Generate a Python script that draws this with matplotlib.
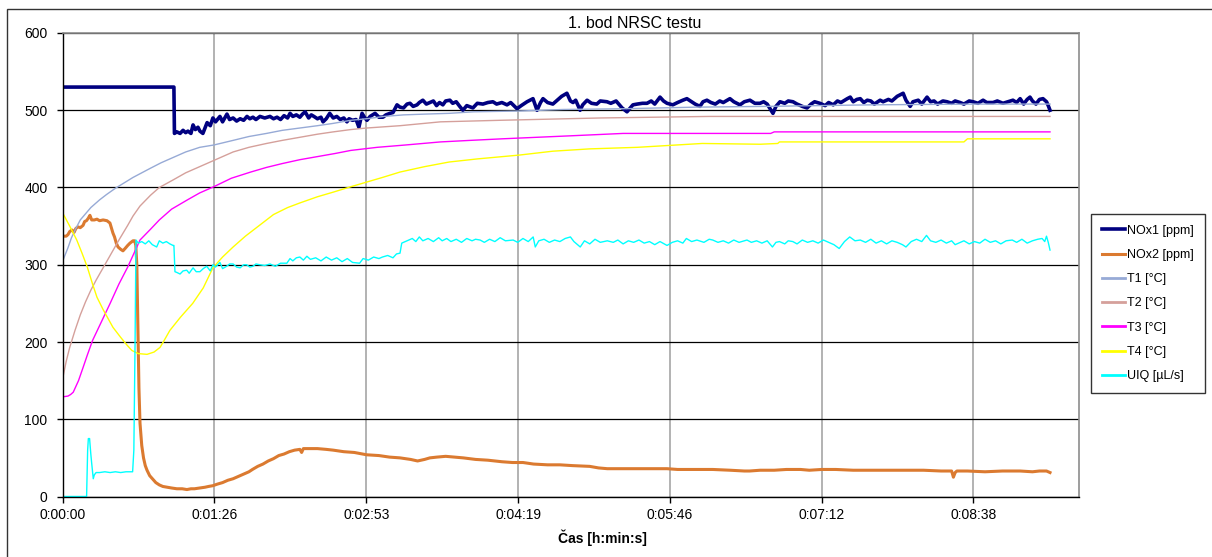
import numpy as np
import matplotlib
matplotlib.use("Agg")
import matplotlib.pyplot as plt
from matplotlib.ticker import FuncFormatter, MultipleLocator
from matplotlib.patches import Rectangle

plt.rcParams["font.family"] = ["Liberation Sans", "DejaVu Sans"]

# (time [s], value) pairs for each logged channel
nox1 = [
    (0, 530), (63.3, 530), (63.6, 470), (65, 472), (66.8, 470), (68.5, 474), (70, 471), (71.3, 473),
    (73, 470), (74.2, 481), (75.5, 475), (77, 478), (78.1, 473), (79.8, 470), (82.2, 484), (84, 480),
    (85.5, 490), (87, 485), (89.5, 492), (91, 485), (93.5, 495), (95, 488), (97, 490), (99, 486),
    (101, 489), (103, 487), (104.9, 492), (106.5, 489), (108.3, 491), (110, 488), (112.3, 492),
    (115, 490), (118, 492), (120, 489), (122, 491), (124, 488), (126, 493), (128, 490), (129.4, 496),
    (131, 492), (133, 494), (135, 491), (136.5, 495), (138, 498), (140, 490), (141.5, 494), (143, 492),
    (145, 489), (147, 491), (148.2, 485), (150, 489), (152, 496), (154, 490), (156, 492), (158, 488),
    (160, 490), (161.8, 485), (163, 489), (165, 487), (167, 488), (168.6, 478), (170.4, 496),
    (172, 490), (173.2, 487), (175, 492), (177.8, 496), (180, 491), (182.3, 491), (184, 494),
    (186.3, 496), (188, 497), (190.3, 507), (192, 504), (194, 503), (196, 508), (197.7, 509),
    (199.5, 505), (201.7, 507), (203, 510), (205, 513), (207, 508), (209, 510), (211, 512),
    (212.8, 506), (214.5, 510), (216.4, 507), (218, 512), (220.4, 513), (222, 509), (224, 511),
    (226, 505), (227.8, 500), (230, 506), (233.5, 503), (236, 509), (239.2, 508), (242, 510),
    (244.9, 511), (247, 508), (250, 510), (252.9, 507), (255, 510), (258.6, 502), (261, 506),
    (264.3, 511), (267.7, 515), (270, 500), (272, 510), (273.4, 515), (276, 510), (279, 508),
    (281, 512), (284, 518), (287, 522), (289, 512), (290.5, 510), (292, 513), (294.5, 500),
    (296, 507), (298.5, 513), (301, 509), (304, 508), (306, 512), (309.8, 511), (312, 509),
    (315, 512), (318.4, 503), (321.2, 498), (324.6, 507), (327, 508), (330, 509), (332.6, 509),
    (335, 512), (337, 508), (340, 517), (342, 512), (344, 509), (347.3, 507), (350, 510), (353, 513),
    (355.3, 515), (358, 511), (360, 508), (362.7, 505), (364.5, 511), (366.7, 513), (369, 510),
    (371.5, 508), (374, 512), (376, 510), (379.8, 515), (382, 511), (385.5, 507), (388, 511),
    (391.2, 513), (394, 509), (396.9, 509), (399, 511), (401, 508), (404.3, 496), (406, 505),
    (408.3, 511), (411, 509), (413, 512), (415.7, 511), (418, 508), (421, 505), (423.7, 503),
    (426, 508), (428, 511), (431, 509), (434, 506), (436, 510), (438.6, 507), (441, 512), (443, 510),
    (446.6, 515), (448.3, 517), (450, 511), (452, 514), (454, 515), (456, 510), (458, 513), (460, 512),
    (462, 508), (465.3, 513), (467, 511), (470, 514), (472, 512), (475, 518), (478.4, 522), (480, 513),
    (482.4, 505), (484, 511), (487, 513), (489, 508), (492, 517), (494, 511), (496, 512), (498, 508),
    (501, 512), (503.4, 511), (506, 509), (508, 512), (510.8, 510), (513, 508), (516, 512),
    (518.2, 511), (521, 509), (523.9, 513), (526, 510), (529.6, 510), (532, 512), (535.2, 509),
    (538, 511), (540.9, 513), (543, 510), (545, 515), (547, 508), (549, 514), (550.6, 517), (552, 512),
    (554, 508), (556, 514), (558, 515), (560, 511), (561, 506), (562, 500),
]

nox2 = [
    (0, 337), (2, 337), (3, 339), (4, 343), (5.3, 345), (6.5, 342), (7.5, 347), (8.7, 349), (10, 348),
    (11.6, 351), (12.5, 356), (13.5, 357), (14.5, 360), (15.5, 364), (16.5, 358), (18, 358),
    (19.5, 359), (21, 357), (23, 358), (25.2, 357), (26.9, 354), (27.8, 347), (28.6, 341),
    (29.5, 336), (30.5, 328), (31.5, 323), (33, 320), (34.3, 318), (35.5, 321), (37, 325),
    (38.3, 328), (40, 331), (41, 331), (41.6, 325), (42.2, 300), (42.8, 220), (43.4, 140), (44, 95),
    (45, 66), (46, 50), (47, 40), (48, 34), (49.5, 27), (51.4, 22), (53, 18), (55, 15), (57, 13),
    (59.4, 12), (62, 11), (65, 10), (68, 10), (70.7, 9), (73, 10), (75, 10), (78, 11), (81, 12),
    (83, 13), (85.5, 14), (88, 16), (91, 18), (94, 21), (97, 23), (100, 26), (103, 29), (106, 32),
    (108, 35), (111, 39), (114, 42), (117, 46), (120, 49), (123, 53), (126, 55), (129, 58), (132, 60),
    (135, 61), (136, 57), (137, 62), (140, 62), (145, 62), (150, 61), (154, 60), (160, 58), (166, 57),
    (173, 54), (180, 53), (186, 51), (192, 50), (198, 48), (202, 46), (206, 48), (209, 50), (213, 51),
    (218, 52), (223, 51), (228, 50), (235, 48), (242, 47), (250, 45), (256, 44), (262, 44), (268, 42),
    (276, 41), (283, 41), (290, 40), (300, 39), (305, 37), (310, 36), (320, 36), (330, 36), (344, 36),
    (350, 35), (360, 35), (370, 35), (380, 34), (388, 33), (391, 33), (397, 34), (405, 34), (412, 35),
    (420, 35), (425, 34), (432, 35), (440, 35), (450, 34), (460, 34), (470, 34), (480, 34), (490, 34),
    (500, 33), (506, 33), (507, 25), (508, 31), (509, 33), (515, 33), (525, 32), (535, 33), (545, 33),
    (552, 32), (556, 33), (560, 33), (562, 31),
]

t1 = [
    (0, 305), (3, 322), (5, 335), (7.5, 347), (10, 358), (13, 366), (16, 374), (21, 384), (25, 391),
    (30, 399), (35, 406), (40, 413), (45, 419), (50, 425), (56, 432), (63, 439), (70, 446), (78, 452),
    (86, 455), (97, 461), (106, 466), (116, 470), (125, 474), (135, 477), (145, 480), (154, 483),
    (164, 487), (173, 489), (183, 492), (194, 494), (206, 495), (220, 496), (234, 498), (260, 499),
    (285, 501), (320, 502), (360, 504), (400, 505), (460, 507), (520, 508), (562, 508),
]

t2 = [
    (0, 153), (2, 175), (4, 193), (7, 215), (10, 235), (13, 252), (16, 267), (19, 280), (22, 292),
    (27, 312), (32, 332), (37, 351), (40, 363), (44, 376), (50, 390), (55, 400), (63, 410), (70, 419),
    (78, 427), (86, 435), (97, 446), (106, 452), (116, 457), (125, 461), (135, 465), (145, 469),
    (154, 472), (164, 475), (173, 477), (192, 480), (215, 485), (249, 487), (306, 490), (368, 492),
    (562, 492),
]

t3 = [
    (0, 129), (3, 130), (4.5, 132), (6, 135), (9, 150), (11.6, 167), (14, 183), (17, 202), (22, 226),
    (27, 250), (32, 275), (37, 297), (44, 332), (50, 346), (55, 358), (62, 372), (71, 384), (78, 393),
    (86, 401), (96, 412), (107, 420), (116, 426), (125, 431), (135, 436), (145, 440), (155, 444),
    (164, 448), (179, 452), (195, 455), (215, 459), (232, 461), (250, 463), (270, 465), (290, 467),
    (319, 470), (403, 470), (405, 472), (562, 472),
]

t4 = [
    (0, 367), (4, 350), (8, 332), (11, 315), (14, 297), (17, 275), (19.5, 258), (23, 242),
    (28.6, 219), (33, 206), (36.6, 196), (39.4, 189), (43, 185), (48, 184), (52, 187), (55.4, 193),
    (58, 203), (61, 215), (67, 232), (74, 250), (80, 270), (85.5, 296), (91, 310), (97, 323),
    (104, 337), (112, 351), (120, 365), (128, 374), (135, 380), (145, 388), (154, 394), (164, 401),
    (173, 407), (182, 413), (192, 420), (206, 427), (220, 433), (236, 437), (260, 442), (279, 447),
    (300, 450), (327, 452), (364, 457), (397, 456), (407, 457), (408, 459), (513, 459), (515, 463),
    (562, 463),
]

uiq = [
    (0, 0), (13.6, 0), (14.2, 60), (14.6, 75), (15.3, 75), (16, 55), (16.5, 43), (17.4, 23), (18, 28),
    (19, 31), (21, 31), (24, 32), (27, 31), (30, 32), (33, 31), (36, 32), (39.8, 32), (40.5, 60),
    (41.2, 200), (41.7, 332), (43, 328), (45, 330), (47, 327), (49, 331), (51, 326), (53.5, 323),
    (55, 331), (57, 328), (59, 330), (61, 327), (62.8, 325), (63.3, 325), (63.9, 291), (65, 290),
    (66.8, 288), (68.5, 292), (70.6, 293), (72, 289), (74.2, 296), (76, 291), (78.1, 291), (80, 295),
    (82, 298), (84, 292), (85.5, 300), (87, 297), (89.5, 303), (91, 295), (93.3, 298), (95, 301),
    (97, 301), (99, 297), (101, 296), (103, 300), (104.7, 300), (106.5, 297), (108.3, 298), (110, 301),
    (112.3, 300), (115, 299), (118, 301), (121, 298), (124, 302), (127.6, 302), (129.4, 308),
    (131, 305), (133, 309), (135, 310), (137, 306), (139, 311), (141, 307), (144, 309), (147, 305),
    (150, 310), (153, 306), (156, 309), (159, 304), (162, 308), (165, 303), (169, 302), (171, 308),
    (174, 306), (177, 310), (180, 308), (182, 310), (185, 312), (188, 309), (190, 314), (192, 315),
    (193, 328), (196, 331), (199, 334), (201, 330), (203, 336), (205, 331), (208, 334), (211, 330),
    (214, 335), (216, 331), (218.6, 334), (221, 330), (224, 333), (227, 329), (230, 334), (233, 331),
    (235, 333), (237.6, 332), (240, 329), (243, 333), (246, 330), (249, 335), (252, 331),
    (256.4, 332), (259, 329), (262, 334), (265, 330), (267.8, 336), (269, 323), (271, 331), (274, 333),
    (277, 329), (280, 332), (283, 330), (286, 334), (289, 336), (291, 330), (294.6, 323), (297, 331),
    (300, 327), (303, 333), (306, 329), (310, 331), (313.4, 329), (316, 332), (319, 327), (322, 331),
    (325, 329), (328, 332), (331, 328), (334, 330), (337, 326), (340, 330), (344, 325), (347, 329),
    (350, 331), (353, 328), (355, 334), (358, 330), (361, 332), (365, 329), (368, 333), (370, 332),
    (373, 329), (376, 331), (379, 328), (382, 332), (385, 329), (389.5, 332), (392, 329), (395, 331),
    (398, 328), (401, 331), (404, 323), (406, 329), (408, 330), (411, 327), (413, 331), (415.6, 330),
    (418, 327), (421, 332), (424, 329), (427, 331), (430, 328), (433, 332), (436, 329), (439, 326),
    (442, 321), (445, 330), (448, 336), (451, 331), (454, 332), (457, 329), (460, 333), (463, 328),
    (466, 331), (469, 327), (472, 331), (475, 329), (478, 326), (480, 323), (483, 330), (486, 333),
    (489, 330), (491.7, 338), (494, 331), (497, 329), (500, 332), (503, 328), (506, 331), (508, 326),
    (510, 328), (513, 331), (516, 327), (519, 330), (522, 328), (525, 333), (528, 329), (531, 331),
    (534, 327), (537, 331), (540.5, 332), (543, 329), (546, 333), (549, 328), (552, 331), (555, 333),
    (557.5, 334), (559, 330), (560, 337), (561, 329), (562, 319),
]

series = [
    ("NOx1 [ppm]", nox1, "#000080", 2.6),
    ("NOx2 [ppm]", nox2, "#DB7A30", 2.2),
    ("T1 [°C]", t1, "#97AAD6", 1.0),
    ("T2 [°C]", t2, "#D5A09B", 1.0),
    ("T3 [°C]", t3, "#FF00FF", 1.0),
    ("T4 [°C]", t4, "#FFFF00", 1.0),
    ("UIQ [µL/s]", uiq, "#00FFFF", 1.0),
]

W, H = 1212, 557
fig = plt.figure(figsize=(W / 100, H / 100), dpi=100)
ax = fig.add_axes([62.7 / W, 1 - 496.5 / H, (1079 - 62.7) / W, (496.5 - 33) / H])

handles = []
for name, pts, col, lw in series:
    arr = np.array(pts, dtype=float)
    h, = ax.plot(arr[:, 0], arr[:, 1], color=col, lw=lw, label=name,
                 solid_joinstyle="round")
    handles.append(h)


def hms(x, pos):
    s = int(round(x))
    return f"{s // 3600}:{s % 3600 // 60:02d}:{s % 60:02d}"


ax.set_xlim(0, 578.5)
ax.set_ylim(0, 600)
ax.xaxis.set_major_locator(MultipleLocator(86.4))
ax.xaxis.set_major_formatter(FuncFormatter(hms))
ax.yaxis.set_major_locator(MultipleLocator(100))

ax.grid(axis="y", color="black", lw=0.9)
ax.grid(axis="x", color="#A6A6A6", lw=1.2)
ax.set_axisbelow(True)

for side in ("top", "right"):
    ax.spines[side].set_color("#8C8C8C")
    ax.spines[side].set_linewidth(1.2)
for side in ("left", "bottom"):
    ax.spines[side].set_color("black")
    ax.spines[side].set_linewidth(1.0)

ax.tick_params(axis="both", direction="out", length=4, width=1, labelsize=10,
               color="black")
ax.tick_params(axis="x", pad=4)
ax.tick_params(axis="y", pad=7)

fig.text(635 / W, 1 - 24 / H, "1. bod NRSC testu", ha="center", va="center", fontsize=11.5)
fig.text(602 / W, 1 - 538 / H, "Čas [h:min:s]", ha="center", va="center",
         fontsize=10, fontweight="bold")

leg = fig.legend(handles=handles, loc="upper left",
                 bbox_to_anchor=(1091 / W, 1 - 214 / H), bbox_transform=fig.transFigure,
                 fontsize=9, frameon=True, fancybox=False, handlelength=1.9,
                 handletextpad=0.15, labelspacing=0.98, borderpad=0.85,
                 borderaxespad=0)
leg.get_frame().set_edgecolor("black")
leg.get_frame().set_linewidth(1.0)
for line in leg.get_lines():
    line.set_linewidth(max(line.get_linewidth(), 2.0))

# outer chart-area frame
fig.patches.append(Rectangle((7 / W, -0.2), 1.2, 1.2 - 9 / H, transform=fig.transFigure,
                             fill=False, edgecolor="#333333", lw=1.0))

fig.savefig("out.png", dpi=100)
